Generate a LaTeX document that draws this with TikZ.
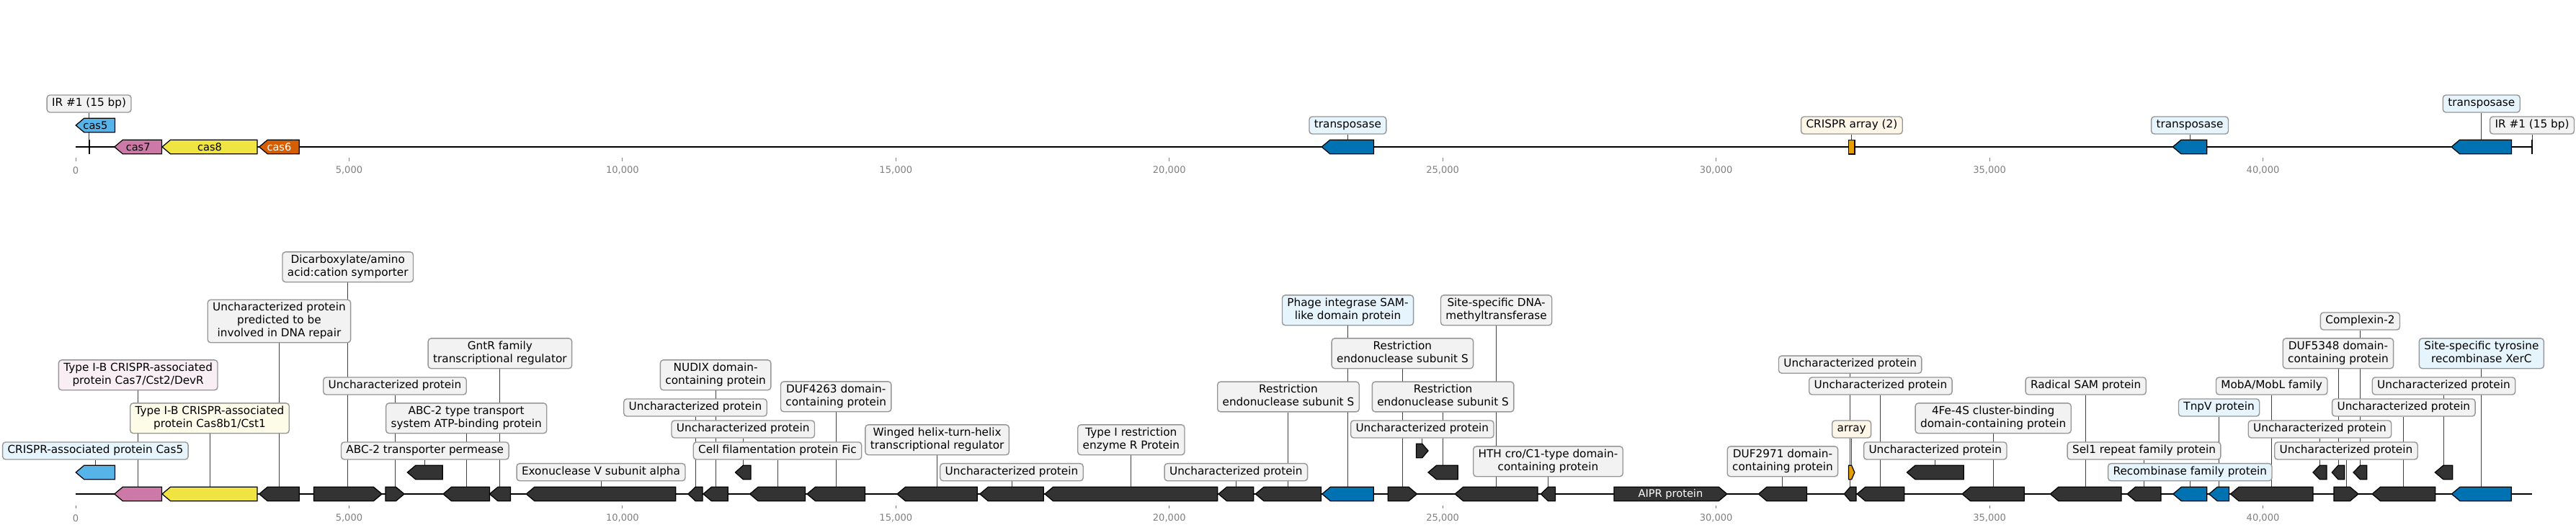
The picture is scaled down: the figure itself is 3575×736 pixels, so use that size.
\documentclass[tikz,border=0pt]{standalone}
\usepackage{fontspec}
\setmainfont{DejaVu Sans}
\usetikzlibrary{calc}
\pgfdeclarelayer{bg}
\pgfsetlayers{bg,main}
\definecolor{dk}{HTML}{333333}
\definecolor{c5}{HTML}{56B4E9}
\definecolor{c7}{HTML}{CC79A7}
\definecolor{c8}{HTML}{F0E442}
\definecolor{c6}{HTML}{D55E00}
\definecolor{tb}{HTML}{0072B2}
\definecolor{ar}{HTML}{E69F00}
\definecolor{lgrey}{HTML}{F2F2F2}
\definecolor{lblue}{HTML}{E6F5FD}
\definecolor{lpink}{HTML}{F9EEF3}
\definecolor{lyel}{HTML}{FDFCE8}
\definecolor{lcream}{HTML}{FDF6E6}
\definecolor{bord}{HTML}{969696}
\definecolor{conncol}{HTML}{404040}
\definecolor{tickc}{HTML}{808080}
\newcommand\lfont{\fontsize{11}{12.75}\selectfont}
\newcommand\tfont{\fontsize{9.4}{11}\selectfont}
\newcommand\gfont{\fontsize{10.5}{12}\selectfont}
\newcommand\sr{\strut}
\newcommand\mygene[6]{%
  \pgfmathsetmacro\gtip{min(11.5,0.5*(#3-#2))}%
  \if#5L
    \draw[genest,fill=#6] (#2,#4) -- ({#2+\gtip},{#4-9.7}) -- (#3,{#4-9.7}) -- (#3,{#4+9.7}) -- ({#2+\gtip},{#4+9.7}) -- cycle;
  \else
    \draw[genest,fill=#6] (#3,#4) -- ({#3-\gtip},{#4-9.7}) -- (#2,{#4-9.7}) -- (#2,{#4+9.7}) -- ({#3-\gtip},{#4+9.7}) -- cycle;
  \fi
  \coordinate (#1) at ({(#2+#3)/2},{#4-9.7});
  \coordinate (#1c) at ({(#2+#3)/2},#4);
}
\begin{document}
\begin{tikzpicture}[x=0.72pt,y=-0.72pt,
  lab/.style={draw=bord,line width=1pt,rounded corners=3pt,fill=lgrey,font=\lfont,align=center,inner xsep=5pt,inner ysep=2.3pt,text=black},
  genest/.style={draw=black,line width=0.9pt,line join=miter},
  conn/.style={draw=conncol,line width=0.7pt},
  backbone/.style={draw=black,line width=1.5pt},
  irst/.style={draw=black,line width=1.5pt},
  tickst/.style={draw=tickc,line width=0.6pt},
  ticklab/.style={font=\tfont,text=tickc,inner sep=0pt},
  gtxt/.style={font=\gfont,inner sep=0pt}]
\useasboundingbox (0,0) rectangle (3575,736);

% ---------------- top track ----------------
\coordinate (tA) at (105,204);
\coordinate (tB) at (3514,204);
\coordinate (irL) at (123.6,194);
\coordinate (irR) at (3514,194);
\begin{pgfonlayer}{bg}
\draw[backbone] (tA) -- (tB);
\draw[irst] (irL) -- ++(0,20);
\draw[irst] (irR) -- ++(0,20);
\end{pgfonlayer}

\mygene{t5}{105.2}{159.6}{174}{L}{c5}
\mygene{t7}{158.8}{224.6}{204}{L}{c7}
\mygene{t8}{225}{357}{204}{L}{c8}
\mygene{t6}{359.7}{415.2}{204}{L}{c6}
\mygene{tt1}{1834.2}{1906.6}{204}{L}{tb}
\mygene{tt2}{3015.4}{3062.7}{204}{L}{tb}
\mygene{tt3}{3402}{3485.5}{204}{L}{tb}
\draw[genest,fill=ar] (2565.7,194.3) rectangle (2574,214);
\coordinate (tarr) at (2569.9,194.3);

\node[gtxt] (t5x) at (t5c) {cas5};
\node[gtxt] (t7x) at (t7c) {cas7};
\node[gtxt] (t8x) at (t8c) {cas8};
\node[gtxt,text=white] (t6x) at (t6c) {cas6};

\node[lab] (irLl) at (irL |- 0,144) {\sr IR \#1 (15 bp)};
\node[lab] (irRl) at (irR |- 0,174) {\sr IR \#1 (15 bp)};
\node[lab,fill=lblue] (tt1l) at (tt1 |- 0,174) {\sr transposase};
\node[lab,fill=lblue] (tt2l) at (tt2 |- 0,174) {\sr transposase};
\node[lab,fill=lblue] (tt3l) at (tt3 |- 0,144) {\sr transposase};
\node[lab,fill=lcream] (tarrl) at (tarr |- 0,174) {\sr CRISPR array (2)};

\begin{pgfonlayer}{bg}
\draw[conn] (irLl.south) -- (irL);
\draw[conn] (irRl.south) -- (irR);
\draw[conn] (tt1l.south) -- (tt1);
\draw[conn] (tt2l.south) -- (tt2);
\draw[conn] (tt3l.south) -- (tt3);
\draw[conn] (tarrl.south) -- (tarr);
\end{pgfonlayer}

% ticks
\foreach \k/\t in {0/0,1/{5,000},2/{10,000},3/{15,000},4/{20,000},5/{25,000},6/{30,000},7/{35,000},8/{40,000}}{
  \coordinate (tk\k) at ({105+379.44*\k},219);
  \coordinate (bk\k) at ({105+379.44*\k},701.7);
  \draw[tickst] (tk\k) -- ++(0,4.5);
  \draw[tickst] (bk\k) -- ++(0,4.5);
  \node[ticklab] (tkl\k) at ({105+379.44*\k},236.7) {\t};
  \node[ticklab] (bkl\k) at ({105+379.44*\k},719.3) {\t};
}

% ---------------- bottom track ----------------
\coordinate (bA) at (105,686);
\coordinate (bB) at (3514,686);
\begin{pgfonlayer}{bg}
\draw[backbone] (bA) -- (bB);
\end{pgfonlayer}

\mygene{g1}{105.2}{159.6}{656}{L}{c5}
\mygene{g2}{158.8}{224.6}{686}{L}{c7}
\mygene{g3}{225}{357}{686}{L}{c8}
\mygene{g4}{359.7}{415.2}{686}{L}{dk}
\mygene{g5}{435.5}{530}{686}{R}{dk}
\mygene{g6}{535}{561}{686}{R}{dk}
\mygene{g7}{565.3}{614.3}{656}{L}{dk}
\mygene{g8}{615}{679.4}{686}{L}{dk}
\mygene{g9}{679.4}{708.4}{686}{L}{dk}
\mygene{g10}{730.3}{937.7}{686}{L}{dk}
\mygene{g11}{955}{975}{686}{L}{dk}
\mygene{g12}{975.9}{1010.3}{686}{L}{dk}
\mygene{g13}{1020.5}{1042}{656}{L}{dk}
\mygene{g14}{1040.6}{1117.4}{686}{L}{dk}
\mygene{g15}{1120}{1200.4}{686}{L}{dk}
\mygene{g16}{1245}{1356.2}{686}{L}{dk}
\mygene{g17}{1359.8}{1448.2}{686}{L}{dk}
\mygene{g18}{1450}{1689.7}{686}{L}{dk}
\mygene{g19}{1691}{1739.7}{686}{L}{dk}
\mygene{g20}{1742.4}{1833.5}{686}{L}{dk}
\mygene{g21}{1834.8}{1906.2}{686}{L}{tb}
\mygene{g22}{1926.3}{1966.5}{686}{R}{dk}
\mygene{g23}{1965.6}{1982}{626}{R}{dk}
\mygene{g24}{1982}{2023.2}{656}{L}{dk}
\mygene{g25}{2019.2}{2134}{686}{L}{dk}
\mygene{g26}{2138.4}{2158.5}{686}{L}{dk}
\mygene{g27}{2240}{2396.8}{686}{R}{dk}
\mygene{g28}{2440.4}{2507.5}{686}{L}{dk}
\mygene{g29}{2559.3}{2576}{686}{L}{dk}
\mygene{g30}{2565.5}{2573.8}{656}{R}{ar}
\mygene{g31}{2577.2}{2642.6}{686}{L}{dk}
\mygene{g32}{2646.4}{2725.1}{656}{L}{dk}
\mygene{g33}{2723}{2809.3}{686}{L}{dk}
\mygene{g34}{2845.3}{2944}{686}{L}{dk}
\mygene{g35}{2952}{2999}{686}{L}{dk}
\mygene{g36}{3015.8}{3062.8}{686}{L}{tb}
\mygene{g37}{3065.6}{3093.5}{686}{L}{tb}
\mygene{g38}{3095.5}{3209.9}{686}{L}{dk}
\mygene{g39}{3209.9}{3229}{656}{L}{dk}
\mygene{g40}{3236.2}{3253.7}{656}{L}{dk}
\mygene{g41}{3239}{3272.9}{686}{R}{dk}
\mygene{g42}{3266}{3284.8}{656}{L}{dk}
\mygene{g43}{3292}{3379.7}{686}{L}{dk}
\mygene{g44}{3379.3}{3403.6}{656}{L}{dk}
\mygene{g45}{3402.4}{3485.3}{686}{L}{tb}

\node[gtxt,text=white] (g27x) at (g27c) {AIPR protein};

\node[lab,fill=lblue] (L1) at (g1 |- 0,626) {\sr CRISPR-associated protein Cas5};
\node[lab,fill=lpink] (L2) at (g2 |- 0,520.8) {\sr Type I-B CRISPR-associated\\\sr protein Cas7/Cst2/DevR};
\node[lab,fill=lyel] (L3) at (g3 |- 0,580.8) {\sr Type I-B CRISPR-associated\\\sr protein Cas8b1/Cst1};
\node[lab] (L4) at (g4 |- 0,446) {\sr Uncharacterized protein\\\sr predicted to be\\\sr involved in DNA repair};
\node[lab] (L5) at (g5 |- 0,370.8) {\sr Dicarboxylate/amino\\\sr acid:cation symporter};
\node[lab] (L6) at (g6 |- 0,536) {\sr Uncharacterized protein};
\node[lab] (L7) at (g7 |- 0,626) {\sr ABC-2 transporter permease};
\node[lab] (L8) at (g8 |- 0,580.8) {\sr ABC-2 type transport\\\sr system ATP-binding protein};
\node[lab] (L9) at (g9 |- 0,490.8) {\sr GntR family\\\sr transcriptional regulator};
\node[lab] (L10) at (g10 |- 0,655.7) {\sr Exonuclease V subunit alpha};
\node[lab] (L11) at (g11 |- 0,566) {\sr Uncharacterized protein};
\node[lab] (L12) at (g12 |- 0,520.8) {\sr NUDIX domain-\\\sr containing protein};
\node[lab] (L13) at (g13 |- 0,596) {\sr Uncharacterized protein};
\node[lab] (L14) at (g14 |- 0,626) {\sr Cell filamentation protein Fic};
\node[lab] (L15) at (g15 |- 0,550.8) {\sr DUF4263 domain-\\\sr containing protein};
\node[lab] (L16) at (g16 |- 0,610.8) {\sr Winged helix-turn-helix\\\sr transcriptional regulator};
\node[lab] (L17) at (g17 |- 0,655.7) {\sr Uncharacterized protein};
\node[lab] (L18) at (g18 |- 0,610.8) {\sr Type I restriction\\\sr enzyme R Protein};
\node[lab] (L19) at (g19 |- 0,655.7) {\sr Uncharacterized protein};
\node[lab] (L20) at (g20 |- 0,551) {\sr Restriction\\\sr endonuclease subunit S};
\node[lab,fill=lblue] (L21) at (g21 |- 0,430.8) {\sr Phage integrase SAM-\\\sr like domain protein};
\node[lab] (L22) at (g22 |- 0,490.8) {\sr Restriction\\\sr endonuclease subunit S};
\node[lab] (L23) at (g23 |- 0,596) {\sr Uncharacterized protein};
\node[lab] (L24) at (g24 |- 0,551) {\sr Restriction\\\sr endonuclease subunit S};
\node[lab] (L25) at (g25 |- 0,430.8) {\sr Site-specific DNA-\\\sr methyltransferase};
\node[lab] (L26) at (g26 |- 0,640.8) {\sr HTH cro/C1-type domain-\\\sr containing protein};
\node[lab] (L28) at (g28 |- 0,640.8) {\sr DUF2971 domain-\\\sr containing protein};
\node[lab] (L29) at (g29 |- 0,506.2) {\sr Uncharacterized protein};
\node[lab,fill=lcream] (L30) at (g30 |- 0,596) {\sr array};
\node[lab] (L31) at (g31 |- 0,536) {\sr Uncharacterized protein};
\node[lab] (L32) at (g32 |- 0,626) {\sr Uncharacterized protein};
\node[lab] (L33) at (g33 |- 0,580.8) {\sr 4Fe-4S cluster-binding\\\sr domain-containing protein};
\node[lab] (L34) at (g34 |- 0,536) {\sr Radical SAM protein};
\node[lab] (L35) at (g35 |- 0,626) {\sr Sel1 repeat family protein};
\node[lab,fill=lblue] (L36) at (g36 |- 0,655.7) {\sr Recombinase family protein};
\node[lab,fill=lblue] (L37) at (g37 |- 0,566) {\sr TnpV protein};
\node[lab] (L38) at (g38 |- 0,536) {\sr MobA/MobL family};
\node[lab] (L39) at (g39 |- 0,596) {\sr Uncharacterized protein};
\node[lab] (L40) at (g40 |- 0,490.8) {\sr DUF5348 domain-\\\sr containing protein};
\node[lab] (L41) at (g41 |- 0,626) {\sr Uncharacterized protein};
\node[lab] (L42) at (g42 |- 0,446) {\sr Complexin-2};
\node[lab] (L43) at (g43 |- 0,566) {\sr Uncharacterized protein};
\node[lab] (L44) at (g44 |- 0,536) {\sr Uncharacterized protein};
\node[lab,fill=lblue] (L45) at (g45 |- 0,490.8) {\sr Site-specific tyrosine\\\sr recombinase XerC};

\begin{pgfonlayer}{bg}
\foreach \i in {1,...,26,28,29,...,45}{
  \draw[conn] (L\i.south) -- (g\i);
}
\end{pgfonlayer}
\end{tikzpicture}
\end{document}
